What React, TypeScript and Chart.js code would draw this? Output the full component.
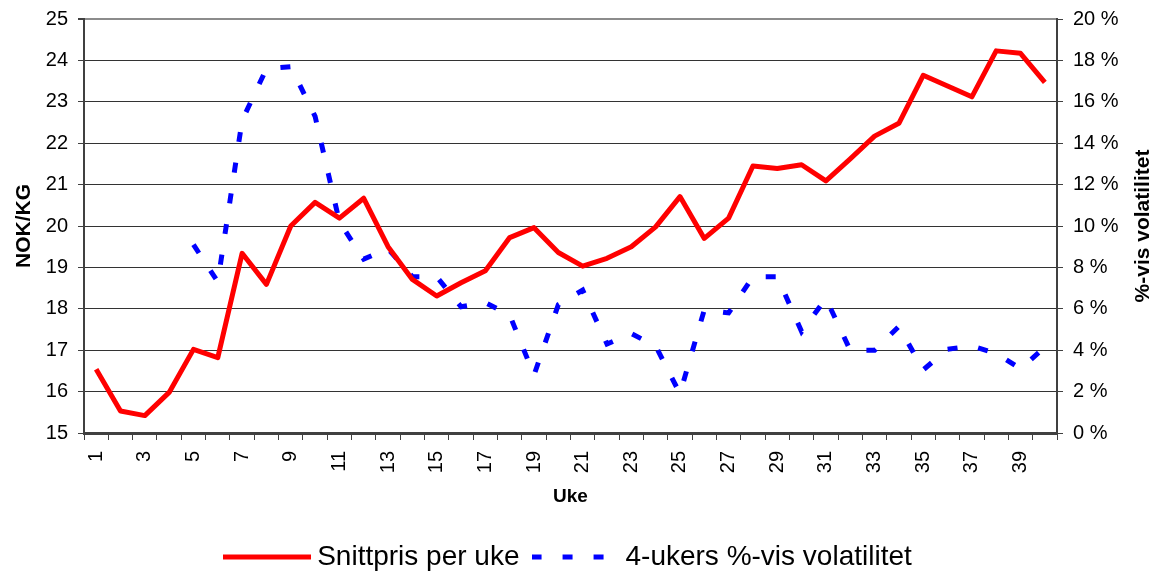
import React, { useEffect, useRef } from 'react';
import { Chart, registerables } from 'chart.js';

Chart.register(...registerables);

const weeks = [
  '1', '2', '3', '4', '5', '6', '7', '8', '9', '10',
  '11', '12', '13', '14', '15', '16', '17', '18', '19', '20',
  '21', '22', '23', '24', '25', '26', '27', '28', '29', '30',
  '31', '32', '33', '34', '35', '36', '37', '38', '39', '40',
];

const avgPrice = [
  16.54, 15.53, 15.42, 15.98, 17.02, 16.82, 19.34, 18.59, 20.0, 20.57,
  20.19, 20.67, 19.5, 18.71, 18.31, 18.63, 18.92, 19.72, 19.96, 19.36,
  19.03, 19.22, 19.5, 19.98, 20.71, 19.7, 20.19, 21.45, 21.39, 21.48,
  21.09, 21.62, 22.17, 22.48, 23.64, 23.38, 23.12, 24.23, 24.17, 23.47,
];

const volatility = [
  null, null, null, null, 9.1, 7.3, 15.1, 17.6, 17.7, 15.3,
  10.2, 8.4, 8.9, 7.55, 7.55, 6.1, 6.3, 5.7, 2.8, 6.2,
  6.9, 4.3, 4.8, 4.2, 1.9, 5.95, 5.8, 7.55, 7.55, 4.9,
  6.5, 4.0, 4.0, 5.15, 3.05, 4.05, 4.2, 3.85, 3.1, 4.15,
];

const seriesNames = ['Snittpris per uke', '4-ukers %-vis volatilitet'];
const leftTitle = 'NOK/KG';
const rightTitleText = '%-vis volatilitet';
const xTitle = 'Uke';
const percentSuffix = ' %';

const FONT = '"Liberation Sans", Arial, Helvetica, sans-serif';
const AXIS_DARK = '#404040';
const GRID = '#333333';
const RED = '#ff0000';
const BLUE = '#0000ff';
const DASH = [10, 21];

function makeLegendSymbol(color: string, dash: number[]) {
  const c = document.createElement('canvas');
  c.width = 88;
  c.height = 6;
  const g = c.getContext('2d');
  if (g) {
    g.strokeStyle = color;
    g.lineWidth = 5;
    g.setLineDash(dash);
    g.beginPath();
    g.moveTo(0, 3);
    g.lineTo(88, 3);
    g.stroke();
  }
  return c;
}

const rightTitlePlugin = {
  id: 'rightTitle',
  afterDraw(chart: any) {
    const { ctx, chartArea } = chart;
    const s = chart.scales.y1;
    ctx.save();
    ctx.translate(s.right - 14, (chartArea.top + chartArea.bottom) / 2);
    ctx.rotate(-Math.PI / 2);
    ctx.font = `bold 21px ${FONT}`;
    ctx.fillStyle = '#000';
    ctx.textAlign = 'center';
    ctx.textBaseline = 'middle';
    ctx.fillText(rightTitleText, 0, 0);
    ctx.restore();
  },
};

export default function App() {
  const canvasRef = useRef<HTMLCanvasElement | null>(null);

  useEffect(() => {
    if (!canvasRef.current) return;
    const redSymbol = makeLegendSymbol(RED, []);
    const blueSymbol = makeLegendSymbol(BLUE, DASH);
    const chart = new Chart(canvasRef.current, {
      type: 'line',
      data: {
        labels: weeks,
        datasets: [
          {
            label: seriesNames[0],
            data: avgPrice,
            yAxisID: 'y',
            borderColor: RED,
            backgroundColor: RED,
            borderWidth: 5,
            pointRadius: 0,
            pointStyle: redSymbol,
            tension: 0,
            borderJoinStyle: 'round',
            order: 1,
          },
          {
            label: seriesNames[1],
            data: volatility,
            yAxisID: 'y1',
            borderColor: BLUE,
            backgroundColor: BLUE,
            borderWidth: 5,
            borderDash: DASH,
            pointRadius: 0,
            pointStyle: blueSymbol,
            tension: 0,
            borderJoinStyle: 'miter',
            order: 2,
          },
        ],
      },
      options: {
        animation: false,
        responsive: true,
        maintainAspectRatio: false,
        layout: { padding: { top: 19, left: -14, right: 0, bottom: -6 } },
        plugins: {
          tooltip: { enabled: false },
          legend: {
            position: 'bottom',
            labels: {
              usePointStyle: true,
              pointStyleWidth: 72,
              padding: 20,
              color: '#000',
              font: { family: FONT, size: 28 },
            },
          },
        },
        scales: {
          x: {
            type: 'category',
            offset: true,
            afterFit: (s: any) => { s.height = 90; },
            grid: {
              offset: true,
              drawOnChartArea: false,
              drawTicks: true,
              tickLength: 7,
              tickColor: AXIS_DARK,
            },
            border: { display: true, color: AXIS_DARK, width: 3 },
            ticks: {
              autoSkip: false,
              minRotation: 90,
              maxRotation: 90,
              padding: 11,
              color: '#000',
              font: { family: FONT, size: 20 },
              callback: (_v: any, i: number) => (i % 2 === 0 ? weeks[i] : ''),
            },
            title: {
              display: true,
              text: xTitle,
              color: '#000',
              font: { family: FONT, size: 19, weight: 'bold' },
              padding: { top: 0, bottom: 15 },
            },
          },
          y: {
            position: 'left',
            min: 15,
            max: 25,
            afterFit: (s: any) => { s.width = 98; },
            ticks: {
              stepSize: 1,
              padding: 10,
              color: '#000',
              font: { family: FONT, size: 20, lineHeight: 0.8 },
            },
            grid: {
              color: (c: any) => (c.tick && c.tick.value === 25 ? '#8c8c8c' : GRID),
              lineWidth: (c: any) => (c.tick && c.tick.value === 25 ? 2 : 1),
              tickLength: 6,
              tickColor: AXIS_DARK,
            },
            border: { display: true, color: AXIS_DARK, width: 2 },
            title: {
              display: true,
              text: leftTitle,
              color: '#000',
              font: { family: FONT, size: 21, weight: 'bold' },
              padding: { top: 26, bottom: 0 },
            },
          },
          y1: {
            position: 'right',
            min: 0,
            max: 20,
            afterFit: (s: any) => { s.width = 100; },
            ticks: {
              stepSize: 2,
              padding: 10,
              color: '#000',
              font: { family: FONT, size: 20, lineHeight: 0.8 },
              callback: (v: any) => `${v}${percentSuffix}`,
            },
            grid: {
              drawOnChartArea: false,
              tickLength: 6,
              tickColor: AXIS_DARK,
            },
            border: { display: true, color: AXIS_DARK, width: 2 },
          },
        },
      },
      plugins: [rightTitlePlugin],
    } as any);
    return () => chart.destroy();
  }, []);

  return (
    <div style={{ position: 'fixed', left: 0, top: 0, width: 1157, height: 575, background: '#fff' }}>
      <canvas ref={canvasRef} />
    </div>
  );
}
